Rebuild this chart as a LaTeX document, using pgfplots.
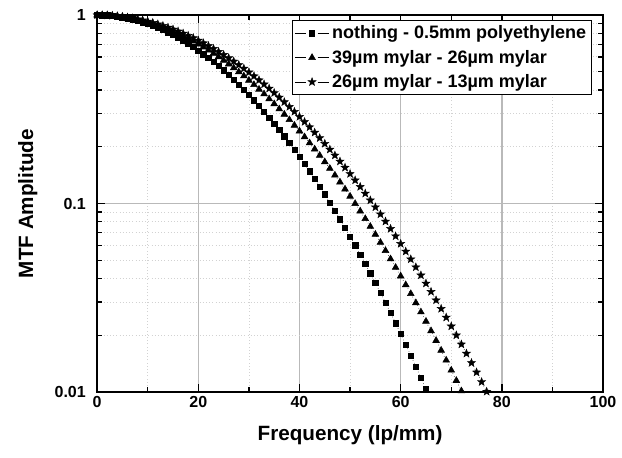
\documentclass[border=0pt]{standalone}
\usepackage{pgfplots}
\pgfplotsset{compat=1.18}
\usetikzlibrary{plotmarks}
\usepackage{fontspec}
\setmainfont{Liberation Sans}

\pgfdeclareplotmark{fstar}{%
  \pgfpathmoveto{\pgfpointpolar{90}{\pgfplotmarksize}}%
  \pgfpathlineto{\pgfpointpolar{126}{0.42\pgfplotmarksize}}%
  \pgfpathlineto{\pgfpointpolar{162}{\pgfplotmarksize}}%
  \pgfpathlineto{\pgfpointpolar{198}{0.42\pgfplotmarksize}}%
  \pgfpathlineto{\pgfpointpolar{234}{\pgfplotmarksize}}%
  \pgfpathlineto{\pgfpointpolar{270}{0.42\pgfplotmarksize}}%
  \pgfpathlineto{\pgfpointpolar{306}{\pgfplotmarksize}}%
  \pgfpathlineto{\pgfpointpolar{342}{0.42\pgfplotmarksize}}%
  \pgfpathlineto{\pgfpointpolar{18}{\pgfplotmarksize}}%
  \pgfpathlineto{\pgfpointpolar{54}{0.42\pgfplotmarksize}}%
  \pgfpathclose\pgfusepathqfillstroke}

\pgfplotstableread{
f v
0 1
1 0.99892
2 0.99568
3 0.99031
4 0.98284
5 0.97331
6 0.96180
7 0.94836
8 0.93309
9 0.91609
10 0.89744
11 0.87728
12 0.85572
13 0.83288
14 0.80890
15 0.78391
16 0.75806
17 0.73146
18 0.70428
19 0.67665
20 0.64868
21 0.62054
22 0.59232
23 0.56418
24 0.53620
25 0.50851
26 0.48121
27 0.45439
28 0.42813
29 0.40252
30 0.37762
31 0.35350
32 0.33021
33 0.30778
34 0.28627
35 0.26567
36 0.24602
37 0.22734
38 0.20961
39 0.19286
40 0.17706
41 0.16220
42 0.14827
43 0.13524
44 0.12309
45 0.11179
46 0.10131
47 0.09161
48 0.08266
49 0.07442
50 0.06686
51 0.05994
52 0.05362
53 0.04786
54 0.04262
55 0.03788
56 0.03359
57 0.02973
58 0.02625
59 0.02313
60 0.02034
61 0.01784
62 0.01562
63 0.01364
64 0.01189
65 0.01034
}\poly

\pgfplotstableread{
f v
0 1
1 0.99911
2 0.99646
3 0.99206
4 0.98593
5 0.97810
6 0.96861
7 0.95753
8 0.94489
9 0.93077
10 0.91524
11 0.89837
12 0.88025
13 0.86097
14 0.84062
15 0.81930
16 0.79711
17 0.77415
18 0.75051
19 0.72632
20 0.70166
21 0.67664
22 0.65135
23 0.62589
24 0.60037
25 0.57486
26 0.54947
27 0.52427
28 0.49935
29 0.47476
30 0.45059
31 0.42690
32 0.40372
33 0.38113
34 0.35917
35 0.33787
36 0.31728
37 0.29741
38 0.27829
39 0.25995
40 0.24238
41 0.22561
42 0.20961
43 0.19442
44 0.17999
45 0.16636
46 0.15348
47 0.14133
48 0.12993
49 0.11923
50 0.10922
51 0.09987
52 0.09117
53 0.08307
54 0.07556
55 0.06859
56 0.06218
57 0.05625
58 0.05081
59 0.04580
60 0.04122
61 0.03703
62 0.03321
63 0.02973
64 0.02656
65 0.02370
66 0.02110
67 0.01875
68 0.01664
69 0.01474
70 0.01304
71 0.01150
72 0.01013
}\mylarA

\pgfplotstableread{
f v
0 1
1 0.99922
2 0.99690
3 0.99304
4 0.98767
5 0.98079
6 0.97245
7 0.96270
8 0.95156
9 0.93908
10 0.92534
11 0.91039
12 0.89428
13 0.87710
14 0.85892
15 0.83981
16 0.81985
17 0.79912
18 0.77771
19 0.75570
20 0.73318
21 0.71023
22 0.68692
23 0.66335
24 0.63960
25 0.61574
26 0.59185
27 0.56800
28 0.54427
29 0.52073
30 0.49742
31 0.47443
32 0.45179
33 0.42957
34 0.40781
35 0.38655
36 0.36583
37 0.34568
38 0.32614
39 0.30723
40 0.28896
41 0.27136
42 0.25443
43 0.23819
44 0.22264
45 0.20779
46 0.19363
47 0.18015
48 0.16735
49 0.15522
50 0.14374
51 0.13290
52 0.12270
53 0.11310
54 0.10409
55 0.09565
56 0.08776
57 0.08039
58 0.07353
59 0.06714
60 0.06121
61 0.05572
62 0.05067
63 0.04597
64 0.04166
65 0.03769
66 0.03405
67 0.03071
68 0.02766
69 0.02487
70 0.02233
71 0.02001
72 0.01791
73 0.01601
74 0.01428
75 0.01272
76 0.01131
77 0.01005
}\mylarB

\begin{document}
\begin{tikzpicture}
\begin{semilogyaxis}[
  scale only axis,
  width=379.5pt, height=282.75pt,
  xmin=0, xmax=100, ymin=0.01, ymax=1,
  xtick={0,20,...,100},
  minor xtick={10,30,...,90},
  ytick={0.01,0.1,1},
  yticklabels={0.01,0.1,1},
  tick align=inside,
  major tick length=6pt, minor tick length=4pt,
  every tick/.style={black, line width=1pt},
  axis line style={line width=1.3pt},
  grid=both,
  major grid style={gray!55, line width=1pt},
  minor grid style={gray!35, dotted, line width=0.6pt},
  ticklabel style={font=\bfseries\fontsize{12}{14}\selectfont},
  yticklabel style={xshift=-5pt},
  /pgf/number format/assume math mode=true,
  xlabel={\bfseries Frequency (lp/mm)},
  ylabel={\bfseries MTF Amplitude},
  label style={font=\bfseries\fontsize{15.5}{17}\selectfont},
  xlabel style={yshift=-6pt},
  ylabel style={yshift=6pt},
  legend cell align=left,
  legend style={at={(rel axis cs:0.978,0.987)}, anchor=north east,
    font=\bfseries\fontsize{13.5}{15}\selectfont, draw=black, line width=0.6pt,
    inner sep=2pt, row sep=3pt},
  legend image code/.code={
    \draw[solid, line width=0.6pt] (0cm,0cm) -- (0.3cm,0cm);
    \draw[solid, line width=0.6pt] (0.6cm,0cm) -- (0.9cm,0cm);
    \draw[#1, draw=none] plot coordinates {(0.45cm,0cm)};
  },
  clip=false,
]
\draw[draw=none] (rel axis cs:-0.192,-0.175) rectangle (rel axis cs:1.0375,1.04);
\addplot[black, dotted, line width=0.4pt, mark=square*, mark size=2pt,
  mark options={solid, draw=black}] table[x=f,y=v] {\poly};
\addlegendentry{nothing - 0.5mm polyethylene}
\addplot[black, dotted, line width=0.4pt, mark=triangle*, mark size=2.9pt,
  mark options={solid, draw=black}] table[x=f,y=v] {\mylarA};
\addlegendentry{39µm mylar - 26µm mylar}
\addplot[black, dotted, line width=0.4pt, mark=fstar, mark size=3.2pt,
  mark options={solid, draw=black, fill=black, line width=0.3pt}] table[x=f,y=v] {\mylarB};
\addlegendentry{26µm mylar - 13µm mylar}
\end{semilogyaxis}
\end{tikzpicture}
\end{document}
